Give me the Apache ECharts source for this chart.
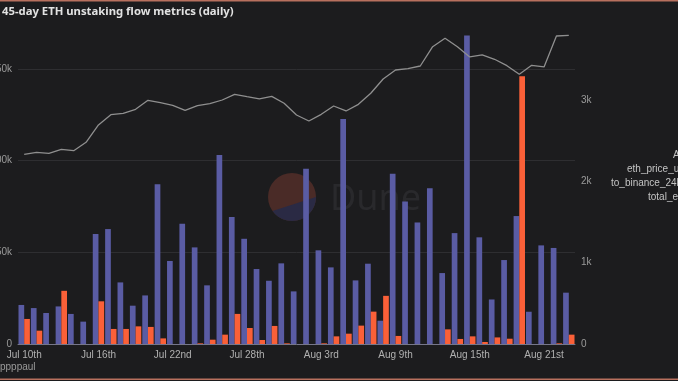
<!DOCTYPE html>
<html>
<head>
<meta charset="utf-8">
<script src="https://cdn.jsdelivr.net/npm/echarts@6/dist/echarts.min.js"></script>
<style>
html,body{margin:0;padding:0;background:#1c1c1e;}
#chart{width:678px;height:381px;}
</style>
</head>
<body>
<div id="chart"></div>
<script>
// ---- data ----
const categories = [
  'Jul 10th','Jul 11th','Jul 12th','Jul 13th','Jul 14th','Jul 15th','Jul 16th','Jul 17th','Jul 18th','Jul 19th',
  'Jul 20th','Jul 21st','Jul 22nd','Jul 23rd','Jul 24th','Jul 25th','Jul 26th','Jul 27th','Jul 28th','Jul 29th',
  'Jul 30th','Jul 31st','Aug 1st','Aug 2nd','Aug 3rd','Aug 4th','Aug 5th','Aug 6th','Aug 7th','Aug 8th',
  'Aug 9th','Aug 10th','Aug 11th','Aug 12th','Aug 13th','Aug 14th','Aug 15th','Aug 16th','Aug 17th','Aug 18th',
  'Aug 19th','Aug 20th','Aug 21st','Aug 22nd','Aug 23rd'
];
// total ETH unstaked (left axis)
const totalEth = [
  21300,19600,16900,20500,16400,12200,60000,62700,33600,20900,
  26500,87100,45300,65600,52700,32000,103100,69300,57400,40900,
  34500,44000,28700,95600,51100,41800,122700,34700,43800,12700,
  92900,77800,66300,84900,38700,60500,168300,58200,24300,45800,
  69800,17600,53800,52400,28000
];
// ETH sent to Binance in 24h (right axis)
const toBinance24h = [
  308,164,0,654,0,0,525,185,185,217,
  210,69,0,0,8,53,115,370,197,49,
  222,8,0,0,8,94,127,226,398,592,
  99,0,0,0,180,62,94,25,81,65,
  3292,0,0,8,115
];
// ETH price in USD (hidden axis)
const ethPriceUsd = [
  2940,2971,2956,3018,2996,3126,3395,3554,3576,3638,
  3777,3740,3700,3622,3694,3725,3782,3870,3833,3798,
  3839,3731,3550,3457,3560,3689,3612,3715,3886,4108,
  4247,4267,4309,4608,4738,4608,4449,4480,4413,4314,
  4180,4320,4294,4774,4785
];
const leftTicks = [0, 50000, 100000, 150000];
const rightTicks = [0, 1000, 2000, 3000];

const chart = echarts.init(document.getElementById('chart'), null, {renderer:'canvas'});

// Dune logo lower segment points (decoration)
const cx = 292, cy = 197, r = 24;
const segPts = [];
for (let a = 0; a <= 144; a += 6) {
  const t = a * Math.PI / 180;
  segPts.push([cx + r * Math.cos(t), cy + r * Math.sin(t)]);
}

const kfmt = v => v === 0 ? '0' : (v / 1000) + 'k';
const lblFont = 'Liberation Sans, Arial, sans-serif';

const option = {
  backgroundColor: '#1c1c1e',
  animation: false,
  grid: {left: 18, right: 103, top: 30, bottom: 37, containLabel: false, outerBoundsMode: 'none'},
  xAxis: {
    type: 'category',
    data: categories,
    boundaryGap: true,
    axisTick: {show: false},
    axisLine: {lineStyle: {color: '#76768a', width: 1}},
    axisLabel: {
      interval: 5, color: '#b0b0b0', fontSize: 10, margin: 6, fontFamily: lblFont
    },
    splitLine: {show: false}
  },
  yAxis: [
    {
      type: 'value', min: 0, max: 171300, interval: 50000,
      axisLine: {show: false}, axisTick: {show: false},
      axisLabel: {
        color: '#9a9a9a', fontSize: 10, margin: 6, showMaxLabel: false, fontFamily: lblFont,
        formatter: v => leftTicks.indexOf(v) >= 0 ? kfmt(v) : ''
      },
      splitLine: {show: true, showMaxLine: false, lineStyle: {color: '#2e2e31', width: 1}}
    },
    {
      type: 'value', min: 0, max: 3861, interval: 1000, position: 'right',
      axisLine: {show: false}, axisTick: {show: false},
      axisLabel: {
        color: '#9a9a9a', fontSize: 10, margin: 6, showMaxLabel: false, fontFamily: lblFont,
        formatter: v => rightTicks.indexOf(v) >= 0 ? kfmt(v) : ''
      },
      splitLine: {show: false}
    },
    {
      type: 'value', min: 0, max: 4867, show: false,
      splitLine: {show: false}
    }
  ],
  series: [
    {
      name: 'total_eth', type: 'bar', yAxisIndex: 0, data: totalEth,
      itemStyle: {color: '#5a5ca4'}, barGap: '0%', barCategoryGap: '8%', z: 2
    },
    {
      name: 'to_binance_24h', type: 'bar', yAxisIndex: 1, data: toBinance24h,
      itemStyle: {color: '#fa6038'}, barGap: '0%', barCategoryGap: '8%', z: 2
    },
    {
      name: 'eth_price_usd', type: 'line', yAxisIndex: 2, data: ethPriceUsd,
      symbol: 'none', lineStyle: {color: '#8f8f8f', width: 1.3}, z: 3
    }
  ],
  graphic: [
    {type: 'rect', left: 0, top: 0, shape: {width: 678, height: 1.5}, style: {fill: '#b8705e'}, z: 10},
    {type: 'rect', left: 0, top: 378.5, shape: {width: 678, height: 1.5}, style: {fill: '#b8705e'}, z: 10},
    {type: 'text', left: 2, top: 6, z: 10, style: {
      text: '45-day ETH unstaking flow metrics (daily)', fill: '#e2e2e2',
      font: 'bold 11.3px "Noto Sans", "Open Sans", sans-serif'}},
    {type: 'text', left: 0, top: 362, z: 10, style: {
      text: 'ppppaul', fill: '#9a9a9a', font: '10px "Liberation Sans", Arial, sans-serif'}},
    // Dune watermark
    {type: 'circle', shape: {cx: cx, cy: cy, r: r}, style: {fill: '#4a2b27'}, z: 0, silent: true},
    {type: 'polygon', shape: {points: segPts}, style: {fill: '#2a2a44'}, z: 0, silent: true},
    {type: 'text', x: 330, y: 182, z: 0, silent: true, style: {
      text: 'Dune', fill: '#29292c', font: '36px "Noto Sans", sans-serif'}},
    // legend (cut off on the right)
    {type: 'text', x: 673, y: 150, z: 10, style: {text: 'All', fill: '#c4c4c4', font: '10px "Liberation Sans", Arial, sans-serif'}},
    {type: 'text', x: 627, y: 164, z: 10, style: {text: 'eth_price_usd', fill: '#c4c4c4', font: '10px "Liberation Sans", Arial, sans-serif'}},
    {type: 'text', x: 611, y: 178, z: 10, style: {text: 'to_binance_24h_eth', fill: '#c4c4c4', font: '10px "Liberation Sans", Arial, sans-serif'}},
    {type: 'text', x: 648, y: 192, z: 10, style: {text: 'total_eth_unstaked', fill: '#c4c4c4', font: '10px "Liberation Sans", Arial, sans-serif'}}
  ]
};
chart.setOption(option);
</script>
</body>
</html>
